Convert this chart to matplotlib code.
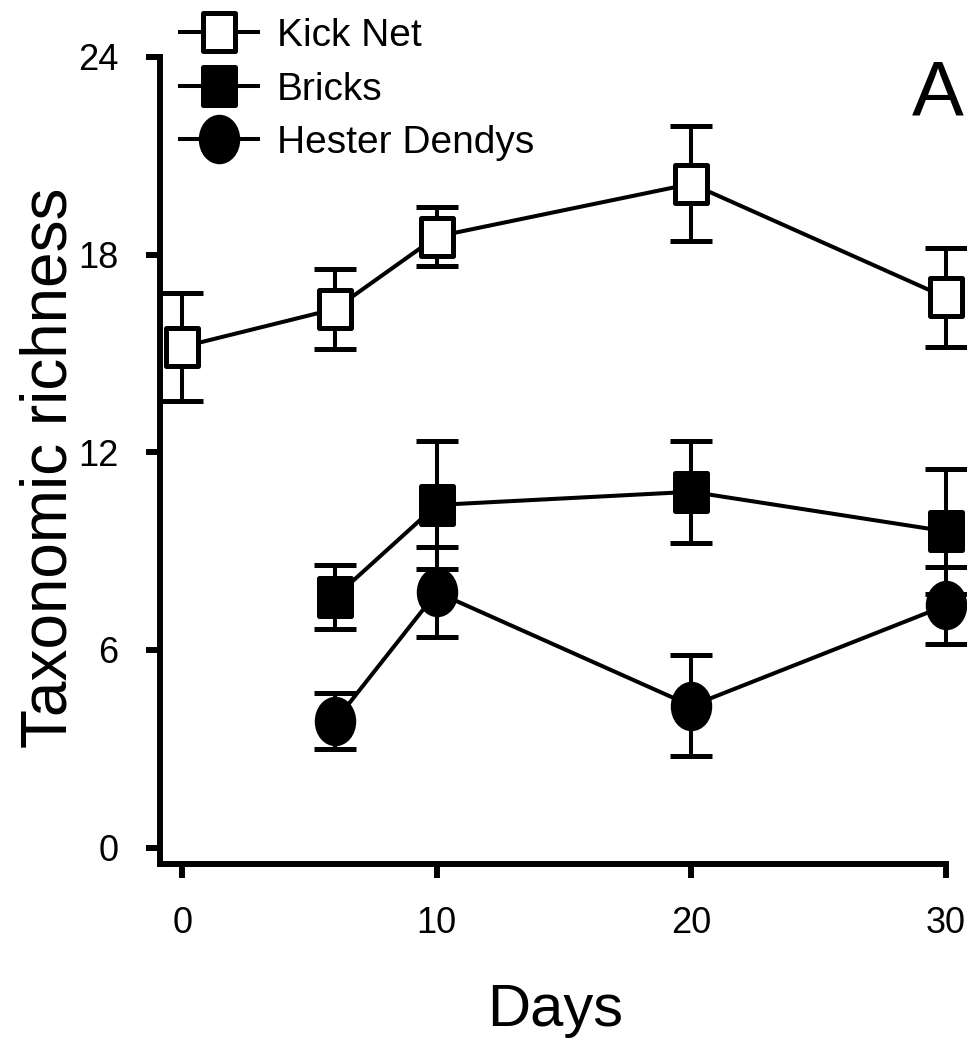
import numpy as np
import matplotlib
matplotlib.use("Agg")
import matplotlib.pyplot as plt
from matplotlib.path import Path

plt.rcParams['font.family'] = ['Liberation Sans', 'DejaVu Sans']

# data
kick_days = [0, 6, 10, 20, 30]
kick_rich = [15.2, 16.35, 18.55, 20.15, 16.7]
kick_err = [1.65, 1.2, 0.9, 1.75, 1.5]

brick_days = [6, 10, 20, 30]
brick_rich = [7.6, 10.4, 10.8, 9.6]
brick_err = [0.97, 1.93, 1.55, 1.9]

hd_days = [6, 10, 20, 30]
hd_rich = [3.83, 7.75, 4.3, 7.35]
hd_err = [0.85, 1.37, 1.53, 1.17]

x_ticks = [0, 10, 20, 30]
y_ticks = [0, 6, 12, 18, 24]

# tall rectangle and ellipse markers (source image is squashed sideways)
rect = Path([(-0.8, -1), (0.8, -1), (0.8, 1), (-0.8, 1), (-0.8, -1)],
            [Path.MOVETO, Path.LINETO, Path.LINETO, Path.LINETO, Path.CLOSEPOLY])
uc = Path.unit_circle()
ell = Path(uc.vertices * np.array([0.82, 1.0]), uc.codes)

fig = plt.figure(figsize=(9.67, 10.46), dpi=100)
ax = fig.add_axes([160/967, 1-864/1046, (946-160)/967, (864-57)/1046])

lw = 2.9
series = [
    (kick_days, kick_rich, kick_err, rect, 'white', 'Kick Net', 28),
    (brick_days, brick_rich, brick_err, rect, 'black', 'Bricks', 28),
    (hd_days, hd_rich, hd_err, ell, 'black', 'Hester Dendys', 32),
]
for xs, ys, es, mk, fc, lab, ms in series:
    ax.errorbar(xs, ys, yerr=es, fmt='none', ecolor='black', elinewidth=lw,
                capsize=15, capthick=3.6, clip_on=False, zorder=2)
    ax.plot(xs, ys, color='black', lw=lw, marker=mk, markersize=ms,
            markerfacecolor=fc, markeredgecolor='black', markeredgewidth=3.6,
            label=lab, clip_on=False, zorder=3)

ax.set_xlim(-0.87, 30)
ax.set_ylim(-0.5, 24)
ax.set_xticks(x_ticks)
ax.set_yticks(y_ticks)
for s in ['top', 'right']:
    ax.spines[s].set_visible(False)
for s in ['left', 'bottom']:
    ax.spines[s].set_linewidth(4.3)
ax.tick_params(width=4.3, length=10, labelsize=26, pad=20)
ax.set_facecolor('none')

fig.text(50/967, 1-468/1046, 'Taxonomic richness', rotation=90, ha='center',
         va='center', fontsize=46)
fig.text(555/967, 1-1010/1046, 'Days', ha='center', va='center', fontsize=43)
fig.text(938/967, 1-95/1046, 'A', ha='center', va='center', fontsize=56)

ax.legend(loc='upper left', bbox_to_anchor=(180/967, 1-18/1046),
          bbox_transform=fig.transFigure, frameon=False, fontsize=28,
          borderpad=0, borderaxespad=0, handlelength=2.0, handletextpad=0.5,
          labelspacing=0.45)

fig.savefig('out.png', dpi=100)
